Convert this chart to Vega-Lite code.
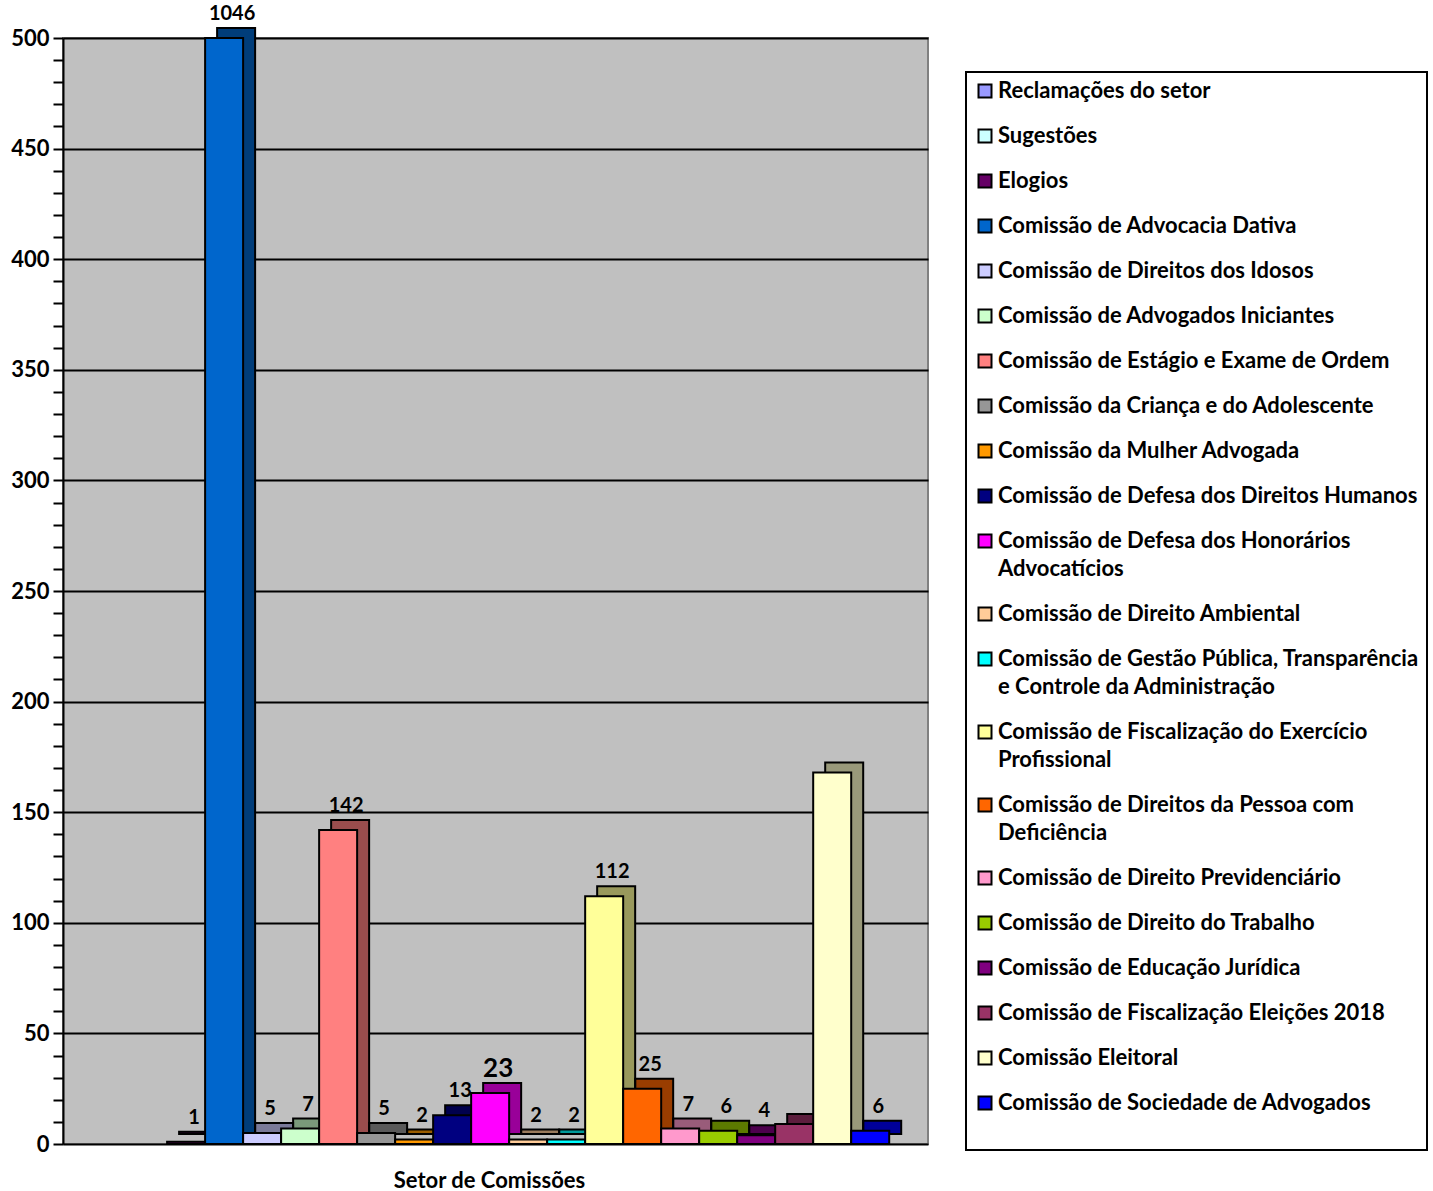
{
  "$schema": "https://vega.github.io/schema/vega-lite/v6.json",
  "width": 865,
  "height": 1106,
  "autosize": {"type": "pad"},
  "padding": {"left": 10, "top": 4, "right": 0, "bottom": 0},
  "background": "white",
  "config": {
    "view": {"fill": "#C0C0C0", "stroke": "#808080", "strokeWidth": 2},
    "font": "Lato"
  },
  "data": {
    "values": [
      {"setor": "Reclamações do setor", "valor": 0, "rotulo": ""},
      {"setor": "Sugestões", "valor": 0, "rotulo": ""},
      {"setor": "Elogios", "valor": 1, "rotulo": "1"},
      {"setor": "Comissão de Advocacia Dativa", "valor": 1046, "rotulo": "1046"},
      {"setor": "Comissão de Direitos dos Idosos", "valor": 5, "rotulo": "5"},
      {"setor": "Comissão de Advogados Iniciantes", "valor": 7, "rotulo": "7"},
      {"setor": "Comissão de Estágio e Exame de Ordem", "valor": 142, "rotulo": "142"},
      {"setor": "Comissão da Criança e do Adolescente", "valor": 5, "rotulo": "5"},
      {"setor": "Comissão da Mulher Advogada", "valor": 2, "rotulo": "2"},
      {"setor": "Comissão de Defesa dos Direitos Humanos", "valor": 13, "rotulo": "13"},
      {"setor": "Comissão de Defesa dos Honorários Advocatícios", "valor": 23, "rotulo": "23"},
      {"setor": "Comissão de Direito Ambiental", "valor": 2, "rotulo": "2"},
      {"setor": "Comissão de Gestão Pública, Transparência e Controle da Administração", "valor": 2, "rotulo": "2"},
      {"setor": "Comissão de Fiscalização do Exercício Profissional", "valor": 112, "rotulo": "112"},
      {"setor": "Comissão de Direitos da Pessoa com Deficiência", "valor": 25, "rotulo": "25"},
      {"setor": "Comissão de Direito Previdenciário", "valor": 7, "rotulo": "7"},
      {"setor": "Comissão de Direito do Trabalho", "valor": 6, "rotulo": "6"},
      {"setor": "Comissão de Educação Jurídica", "valor": 4, "rotulo": "4"},
      {"setor": "Comissão de Fiscalização Eleições 2018", "valor": 9, "rotulo": ""},
      {"setor": "Comissão Eleitoral", "valor": 168, "rotulo": ""},
      {"setor": "Comissão de Sociedade de Advogados", "valor": 6, "rotulo": "6"}
    ]
  },
  "encoding": {
    "x": {
      "field": "setor",
      "type": "nominal",
      "sort": null,
      "scale": {"paddingInner": 0, "paddingOuter": 0.88, "align": 0.42},
      "title": "Setor de Comissões",
      "axis": {
        "labels": false,
        "ticks": false,
        "domainColor": "black",
        "domainWidth": 2,
        "titleFontSize": 22,
        "titleFontWeight": "bold",
        "titleColor": "black",
        "titlePadding": 26,
        "titleFont": "Lato",
        "titleX": 426
      }
    },
    "y": {
      "field": "valor",
      "type": "quantitative",
      "scale": {"domain": [0, 500], "clamp": true, "nice": false},
      "title": null,
      "axis": {
        "values": [0, 10, 20, 30, 40, 50, 60, 70, 80, 90, 100, 110, 120, 130, 140, 150, 160, 170, 180, 190, 200, 210, 220, 230, 240, 250, 260, 270, 280, 290, 300, 310, 320, 330, 340, 350, 360, 370, 380, 390, 400, 410, 420, 430, 440, 450, 460, 470, 480, 490, 500],
        "labelExpr": "datum.value % 50 === 0 ? datum.label : ''",
        "labelFontSize": 22,
        "labelFontWeight": "bold",
        "labelColor": "black",
        "labelPadding": 4,
        "labelFont": "Lato",
        "tickSize": 10,
        "tickColor": "black",
        "tickWidth": 2,
        "domainColor": "black",
        "domainWidth": 2,
        "grid": true,
        "gridColor": "black",
        "gridWidth": 2,
        "gridOpacity": {"condition": {"test": "datum.value % 50 === 0 && datum.value > 0", "value": 1}, "value": 0}
      }
    },
    "color": {
      "field": "setor",
      "type": "nominal",
      "sort": null,
      "scale": {
        "range": ["#9999FF", "#CCFFFF", "#660066", "#0066CC", "#CCCCFF", "#CCFFCC", "#FF8080", "#969696", "#FF9900", "#000080", "#FF00FF", "#FFCC99", "#00FFFF", "#FFFF99", "#FF6600", "#FF99CC", "#99CC00", "#800080", "#993366", "#FFFFCC", "#0000FF"]
      },
      "legend": {
        "orient": "none",
        "legendX": 903,
        "legendY": 34,
        "title": null,
        "symbolType": "square",
        "symbolSize": 169,
        "symbolStrokeColor": "black",
        "symbolStrokeWidth": 2,
        "symbolOpacity": 1,
        "labelFontSize": 22,
        "labelFontWeight": "bold",
        "labelFont": "Lato",
        "labelColor": "black",
        "labelLimit": 500,
        "labelOffset": 2,
        "labelBaseline": "middle",
        "rowPadding": 23,
        "padding": 8,
        "strokeColor": "black",
        "fillColor": "white",
        "encode": {
          "legend": {"update": {"strokeWidth": {"value": 2}}},
          "labels": {"update": {"lineHeight": {"value": 28}}}
        },
        "labelExpr": "datum.label == 'Comissão de Defesa dos Honorários Advocatícios' ? ['Comissão de Defesa dos Honorários', 'Advocatícios'] : datum.label == 'Comissão de Gestão Pública, Transparência e Controle da Administração' ? ['Comissão de Gestão Pública, Transparência', 'e Controle da Administração'] : datum.label == 'Comissão de Fiscalização do Exercício Profissional' ? ['Comissão de Fiscalização do Exercício', 'Profissional'] : datum.label == 'Comissão de Direitos da Pessoa com Deficiência' ? ['Comissão de Direitos da Pessoa com', 'Deficiência'] : datum.label == 'Comissão de Sociedade de Advogados' ? ['Comissão de Sociedade de Advogados', ''] : datum.label"
      }
    }
  },
  "layer": [
    {
      "mark": {"type": "bar", "xOffset": 12, "yOffset": -10, "y2Offset": -10, "strokeWidth": 0},
      "encoding": {
        "opacity": {"condition": {"test": "datum.valor == 0", "value": 0}, "value": 1}
      }
    },
    {
      "mark": {"type": "bar", "xOffset": 12, "yOffset": -10, "y2Offset": -10, "fill": "black", "stroke": "black", "strokeWidth": 2},
      "encoding": {
        "color": {"value": "black"},
        "fillOpacity": {"condition": {"test": "datum.valor == 0", "value": 0}, "value": 0.4},
        "strokeOpacity": {"condition": {"test": "datum.valor == 0", "value": 0}, "value": 1}
      }
    },
    {
      "mark": {"type": "bar", "stroke": "black", "strokeWidth": 2},
      "encoding": {
        "strokeOpacity": {"condition": {"test": "datum.valor == 0", "value": 0}, "value": 1}
      }
    },
    {
      "transform": [{"filter": "datum.rotulo != ''"}],
      "mark": {"type": "text", "fontWeight": "bold", "dx": 8, "dy": -24, "baseline": "middle"},
      "encoding": {
        "color": {"value": "black"},
        "text": {"field": "rotulo"},
        "size": {"condition": {"test": "datum.valor == 23", "value": 26}, "value": 20}
      }
    }
  ]
}
